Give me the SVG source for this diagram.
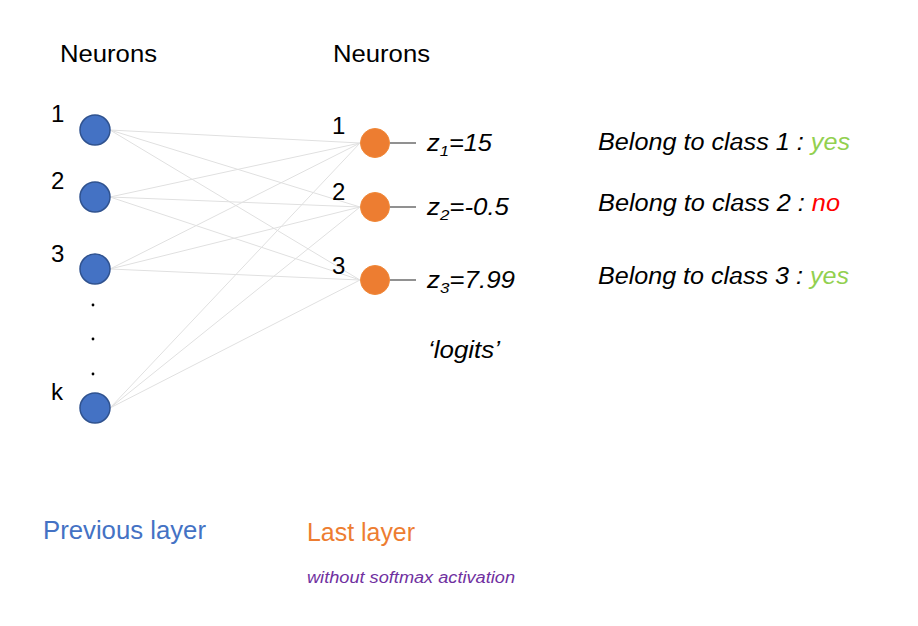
<svg xmlns="http://www.w3.org/2000/svg" width="918" height="626" viewBox="0 0 918 626">
<style>
text{font-family:"Liberation Sans","Open Sans",sans-serif;fill:#000}
.lbl{font-size:23px}
.num{font-size:24px}
.it{font-style:italic;font-size:23px}
.w{stroke:#e0e0e0;stroke-width:1;fill:none}
.o{stroke:#555;stroke-width:1.3}
.pn{fill:#4472C4;stroke:#2F528F;stroke-width:1.5}
.ln{fill:#ED7D31;stroke:#F08838;stroke-width:1}
</style>
<rect width="918" height="626" fill="#fff"/>
<g id="connectors">
<line class="w" x1="110" y1="130" x2="360" y2="143"/>
<line class="w" x1="110" y1="130" x2="360" y2="207"/>
<line class="w" x1="110" y1="130" x2="360" y2="280"/>
<line class="w" x1="110" y1="197" x2="360" y2="143"/>
<line class="w" x1="110" y1="197" x2="360" y2="207"/>
<line class="w" x1="110" y1="197" x2="360" y2="280"/>
<line class="w" x1="110" y1="269" x2="360" y2="143"/>
<line class="w" x1="110" y1="269" x2="360" y2="207"/>
<line class="w" x1="110" y1="269" x2="360" y2="280"/>
<line class="w" x1="110" y1="408" x2="360" y2="143"/>
<line class="w" x1="110" y1="408" x2="360" y2="207"/>
<line class="w" x1="110" y1="408" x2="360" y2="280"/>
<line class="o" x1="390" y1="143" x2="416" y2="143"/>
<line class="o" x1="390" y1="207" x2="416" y2="207"/>
<line class="o" x1="390" y1="280" x2="416" y2="280"/>
</g>
<text class="lbl" x="60" y="62" textLength="97" lengthAdjust="spacingAndGlyphs">Neurons</text>
<text class="lbl" x="333" y="62" textLength="97" lengthAdjust="spacingAndGlyphs">Neurons</text>
<g id="p1"><circle class="pn" cx="95" cy="130" r="15"/><text class="num" x="51" y="122">1</text></g>
<g id="p2"><circle class="pn" cx="95" cy="197" r="15"/><text class="num" x="51" y="189">2</text></g>
<g id="p3"><circle class="pn" cx="95" cy="269" r="15"/><text class="num" x="51" y="262">3</text></g>
<g id="dots"><circle cx="93" cy="305" r="1.4" fill="#000"/><circle cx="93" cy="339" r="1.4" fill="#000"/><circle cx="93" cy="374" r="1.4" fill="#000"/></g>
<g id="pk"><circle class="pn" cx="95" cy="408" r="15"/><text class="num" x="51" y="400">k</text></g>
<g id="l1"><circle class="ln" cx="375" cy="143" r="14.5"/><text class="num" x="332" y="134">1</text>
<text class="it" x="427" y="151" textLength="65" lengthAdjust="spacingAndGlyphs">z<tspan font-size="15" dy="5">1</tspan><tspan dy="-5">=15</tspan></text></g>
<g id="l2"><circle class="ln" cx="375" cy="207" r="14.5"/><text class="num" x="332" y="200">2</text>
<text class="it" x="427" y="215" textLength="82" lengthAdjust="spacingAndGlyphs">z<tspan font-size="15" dy="5">2</tspan><tspan dy="-5">=-0.5</tspan></text></g>
<g id="l3"><circle class="ln" cx="375" cy="280" r="14.5"/><text class="num" x="332" y="274">3</text>
<text class="it" x="427" y="288" textLength="88" lengthAdjust="spacingAndGlyphs">z<tspan font-size="15" dy="5">3</tspan><tspan dy="-5">=7.99</tspan></text></g>
<text class="it" x="428" y="358" textLength="72" lengthAdjust="spacingAndGlyphs">‘logits’</text>
<text class="it" x="598" y="150" textLength="252" lengthAdjust="spacingAndGlyphs">Belong to class 1 : <tspan fill="#92D050">yes</tspan></text>
<text class="it" x="598" y="211" textLength="242" lengthAdjust="spacingAndGlyphs">Belong to class 2 : <tspan fill="#FF0000">no</tspan></text>
<text class="it" x="598" y="284" textLength="251" lengthAdjust="spacingAndGlyphs">Belong to class 3 : <tspan fill="#92D050">yes</tspan></text>
<text x="43" y="539" font-size="25" style="fill:#4472C4" textLength="163" lengthAdjust="spacingAndGlyphs">Previous layer</text>
<text x="307" y="541" font-size="25" style="fill:#ED7D31" textLength="108" lengthAdjust="spacingAndGlyphs">Last layer</text>
<text x="307" y="583" font-size="16" font-style="italic" style="fill:#7030A0" textLength="208" lengthAdjust="spacingAndGlyphs">without softmax activation</text>
</svg>
